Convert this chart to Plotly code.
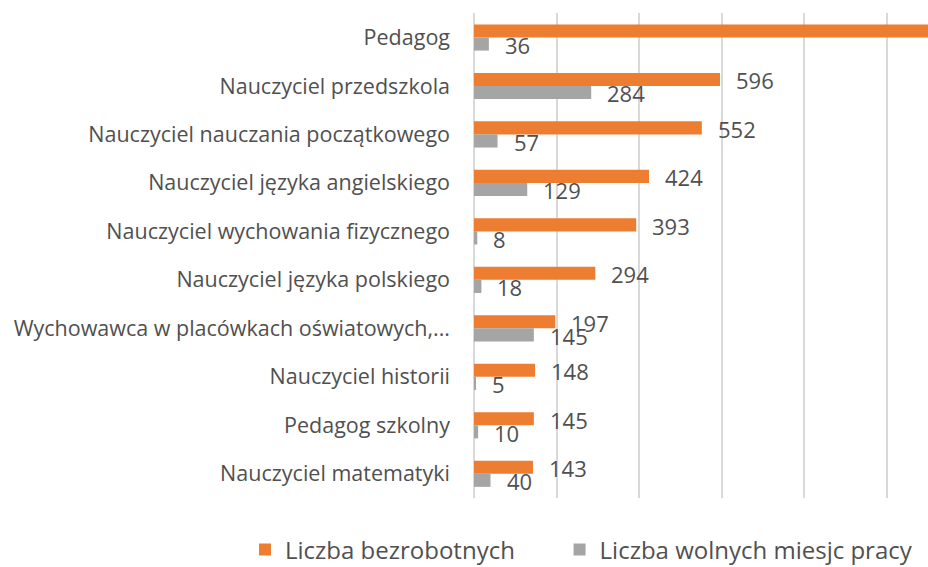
import plotly.graph_objects as go

categories = [
    "Pedagog",
    "Nauczyciel przedszkola",
    "Nauczyciel nauczania początkowego",
    "Nauczyciel języka angielskiego",
    "Nauczyciel wychowania fizycznego",
    "Nauczyciel języka polskiego",
    "Wychowawca w placówkach oświatowych,...",
    "Nauczyciel historii",
    "Pedagog szkolny",
    "Nauczyciel matematyki",
]
bezrobotni = [1200, 596, 552, 424, 393, 294, 197, 148, 145, 143]
wolne_miejsca = [36, 284, 57, 129, 8, 18, 145, 5, 10, 40]

ORANGE = "#ED7D31"
GRAY = "#A5A5A5"
TEXT = "#505050"
FONT = "Open Sans"

fig = go.Figure()
fig.add_trace(go.Bar(
    y=categories, x=bezrobotni, orientation="h", name="Liczba bezrobotnych",
    marker=dict(color=ORANGE, line=dict(width=0)), legend="legend",
))
fig.add_trace(go.Bar(
    y=categories, x=wolne_miejsca, orientation="h", name="Liczba wolnych miesjc pracy",
    marker=dict(color=GRAY, line=dict(width=0)), legend="legend2",
))

annotations = []
for cat, v in zip(categories, bezrobotni):
    annotations.append(dict(x=v, y=cat, xref="x", yref="y", text=str(v),
                            showarrow=False, xanchor="left", yanchor="middle",
                            xshift=14, yshift=5.5,
                            font=dict(family=FONT, size=22, color=TEXT)))
for cat, v in zip(categories, wolne_miejsca):
    annotations.append(dict(x=v, y=cat, xref="x", yref="y", text=str(v),
                            showarrow=False, xanchor="left", yanchor="middle",
                            xshift=14, yshift=-7.5,
                            font=dict(family=FONT, size=22, color=TEXT)))

legend_style = dict(orientation="h", xref="container", yref="container",
                    xanchor="left", yanchor="middle",
                    font=dict(family=FONT, size=24, color=TEXT),
                    bgcolor="rgba(0,0,0,0)", itemwidth=30)

fig.update_layout(
    template="none",
    width=928, height=567,
    margin=dict(l=474, r=0, t=13, b=69, pad=0, autoexpand=False),
    paper_bgcolor="white", plot_bgcolor="white",
    barmode="group", bargap=0.46, bargroupgap=0,
    font=dict(family=FONT, size=21.5, color=TEXT),
    showlegend=True,
    legend=dict(legend_style, x=0.2640, y=0.030),
    legend2=dict(legend_style, x=0.6030, y=0.030),
    annotations=annotations,
    xaxis=dict(range=[0, 1100], dtick=200, showticklabels=False, automargin=False,
               showgrid=True, gridcolor="#D9D9D9", gridwidth=1.5,
               zeroline=True, zerolinecolor="#D9D9D9", zerolinewidth=1.5,
               showline=False, ticks="", fixedrange=True),
    yaxis=dict(autorange="reversed", showgrid=False, showline=False, ticks="",
               automargin=False, zeroline=False,
               ticklabelstandoff=23, tickfont=dict(family=FONT, size=21.5, color=TEXT)),
)

fig.write_html(
    "out.html",
    config={"displayModeBar": False},
    post_script="document.body.style.margin='0';document.body.style.overflow='hidden';",
)
